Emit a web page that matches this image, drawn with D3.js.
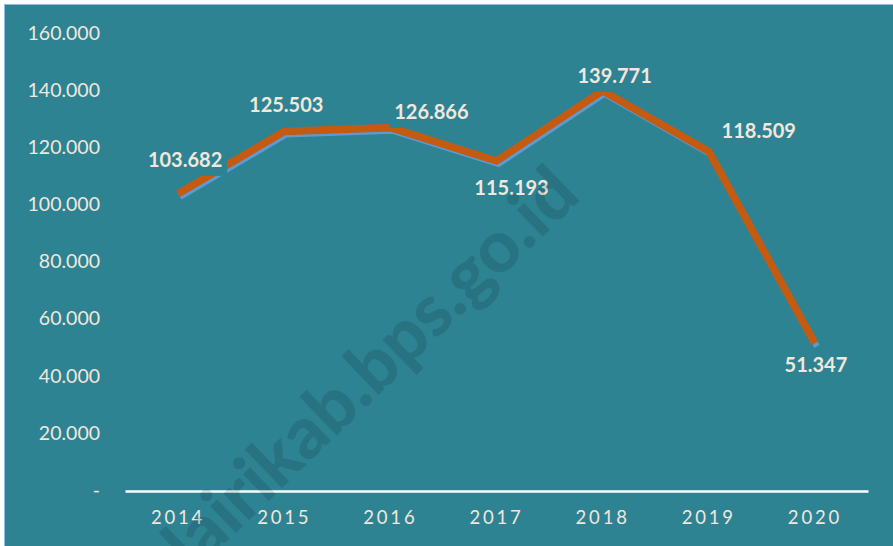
<!DOCTYPE html>
<html><head><meta charset="utf-8">
<script src="https://cdn.jsdelivr.net/npm/d3@7"></script>
<style>
html,body{margin:0;padding:0;background:#fff;}
svg{display:block;}
</style></head>
<body>
<svg id="chart" width="893" height="546"></svg>
<script>
// ---- data ----
const years = ["2014","2015","2016","2017","2018","2019","2020"];
const values = [103682, 125503, 126866, 115193, 139771, 118509, 51347];
const yTicks = [0, 20000, 40000, 60000, 80000, 100000, 120000, 140000, 160000];
const watermarkText = "dairikab.bps.go.id";

// ---- layout / style (not data) ----
const W = 893, H = 546;
const bg = "#2E8393";
const textCol = "#F1E7DC";
const labelOffsets = [[7,-34],[2,-27],[41,-16],[15,27],[12,-15],[50,-21],[1,22]];

const svg = d3.select("#chart");
svg.append("rect").attr("x",4.5).attr("y",4.5).attr("width",W).attr("height",H)
  .attr("fill",bg).attr("stroke","#8FBCE0").attr("stroke-width",1);

const loc = d3.formatLocale({decimal:",", thousands:".", grouping:[3], currency:["",""]});
const fmt = loc.format(",.0f");
const tickFmt = v => v === 0 ? "-" : loc.format(",.3f")(v/1000).replace(",", ".");

const x = d3.scaleBand().domain(years).range([125, 868]);
const y = d3.scaleLinear().domain([0, 160000]).range([490, 33]);

// y axis labels
const yAxis = d3.axisLeft(y).tickValues(yTicks).tickFormat(tickFmt).tickSize(0).tickPadding(0);
const gy = svg.append("g").attr("transform","translate(100,0)").call(yAxis);
gy.select(".domain").remove();
gy.selectAll("text").attr("fill",textCol).style("font-family","Lato, 'Open Sans', sans-serif")
  .style("font-size","19.5px");

// x axis
const xAxis = d3.axisBottom(x).tickSize(0).tickPadding(20);
const gx = svg.append("g").attr("transform","translate(0,491)").call(xAxis);
gx.select(".domain").attr("stroke","#FFFFFF").attr("stroke-width",2.5);
gx.selectAll("text").attr("fill",textCol).style("font-family","Lato, 'Open Sans', sans-serif")
  .style("font-size","18.5px").style("letter-spacing","2.8px");

// lines
const pts = years.map((yr,i)=>({yr, v:values[i]}));
const line = d3.line().x(d=>x(d.yr)+x.bandwidth()/2).y(d=>y(d.v));
svg.append("path").datum(pts).attr("d",line).attr("transform","translate(2,3)")
  .attr("fill","none").attr("stroke","#5B9BD5").attr("stroke-width",6).attr("stroke-linejoin","miter");
svg.append("path").datum(pts).attr("d",line)
  .attr("fill","none").attr("stroke","#C55A11").attr("stroke-width",7.5).attr("stroke-linejoin","miter");

// data labels
const lg = svg.append("g").selectAll("g").data(pts).join("g")
  .attr("transform",(d,i)=>`translate(${x(d.yr)+x.bandwidth()/2+labelOffsets[i][0]},${y(d.v)+labelOffsets[i][1]})`);
lg.append("rect").attr("x",-42).attr("y",-16).attr("width",84).attr("height",32).attr("fill",bg);
lg.append("text").text(d=>fmt(d.v)).attr("text-anchor","middle").attr("dy","0.35em")
  .attr("fill",textCol).style("font-family","Lato, 'Open Sans', sans-serif")
  .style("font-size","20px").style("font-weight","bold");

// watermark (on top, translucent)
svg.append("text").text(watermarkText)
  .attr("transform","translate(362,376) rotate(-44)")
  .attr("text-anchor","middle").attr("dy","0.35em")
  .attr("fill","#000").attr("fill-opacity",0.12)
  .style("font-family","Lato, 'Open Sans', sans-serif").style("font-weight","900")
  .style("font-size","72px");
</script>
</body></html>
